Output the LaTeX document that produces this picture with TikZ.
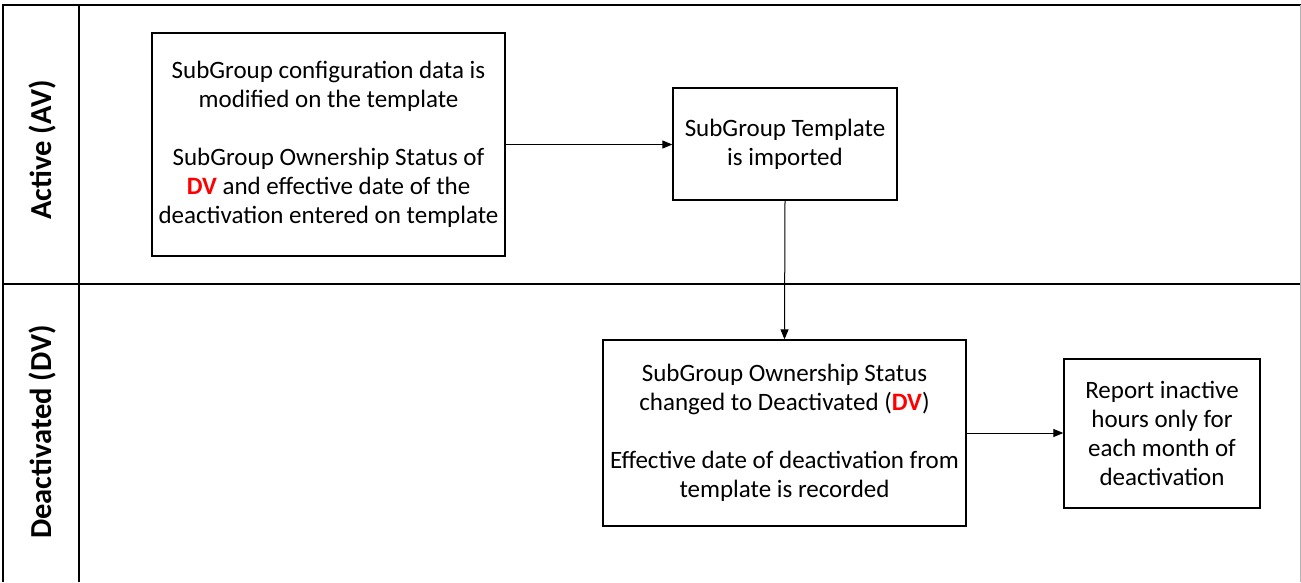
\documentclass[tikz,border=0pt]{standalone}
\usepackage{fontspec}
\setmainfont{Carlito}
\usepackage{xcolor}
\usepackage{tikz}
\usetikzlibrary{positioning,arrows.meta,shapes}

\begin{document}
\begin{tikzpicture}[x=1pt,y=-1pt,
  lane/.style={line width=2pt},
  box/.style={rectangle,draw,line width=1.3pt,align=center,inner sep=0pt,
    font=\fontsize{25}{29}\selectfont},
  lanelabel/.style={rotate=90,font=\fontsize{30.5}{32}\selectfont\bfseries},
  flow/.style={line width=1pt,-{Triangle[length=10pt,width=8pt]}}]
  \useasboundingbox (0,0) rectangle (1301,582);
  % pool and lanes
  \draw[lane] (3,582) -- (3,5) -- (1301,5);
  \draw[lane] (79,5) -- (79,582);
  \draw[lane] (3,284) -- (1301,284);
  \draw[gray!60,line width=1pt] (1300,5) -- (1300,582);
  \node[lanelabel] (avlane) at (42,150) {Active (AV)};
  \node[lanelabel] (dvlane) at (42,432) {Deactivated (DV)};
  % steps
  \node[box,minimum width=353pt,minimum height=223pt] (config) at (328.5,144.5)
    {SubGroup configuration data is\\modified on the template\\[29pt]
     SubGroup Ownership Status of\\{\bfseries\color{red}DV} and effective date of the\\
     deactivation entered on template};
  \node[box,minimum width=224pt,minimum height=112pt] (import) at (785,144)
    {SubGroup Template\\is imported};
  \node[box,minimum width=363pt,minimum height=186pt] (status) at (784.5,433)
    {SubGroup Ownership Status\\changed to Deactivated ({\bfseries\color{red}DV})\\[29pt]
     Effective date of deactivation from\\template is recorded};
  \node[box,minimum width=196pt,minimum height=149pt] (report) at (1162,433.5)
    {Report inactive\\hours only for\\each month of\\deactivation};
  % connectors
  \draw[flow] (config.east) -- (config.east -| import.west);
  \draw[flow] (import.south) -- (status.north);
  \draw[flow] (status.east) -- (status.east -| report.west);
\end{tikzpicture}
\end{document}
